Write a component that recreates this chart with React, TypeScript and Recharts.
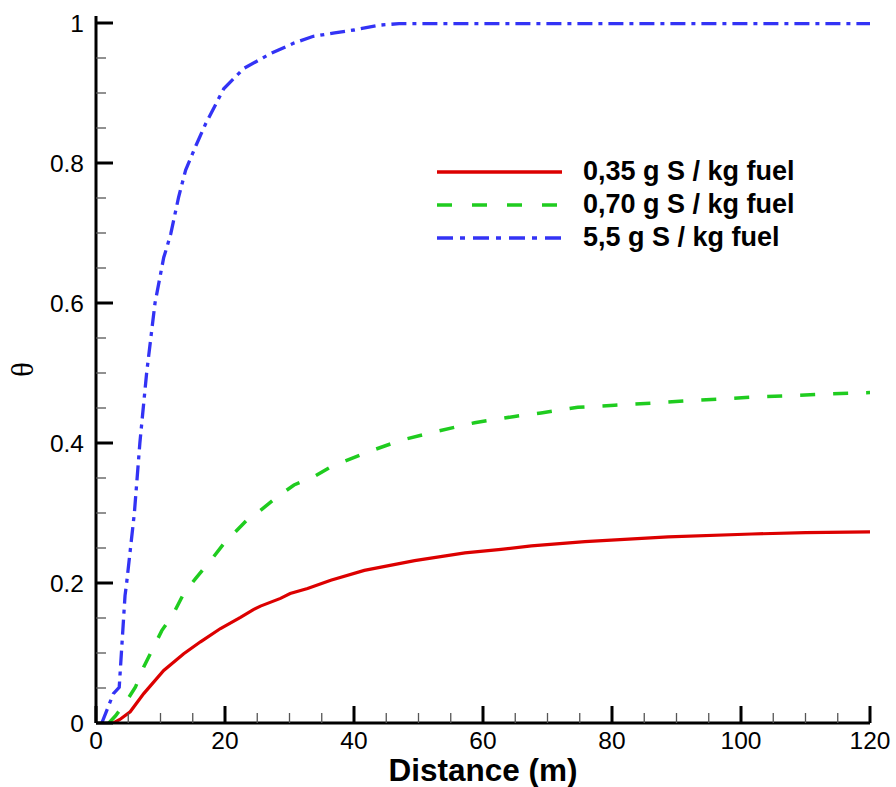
import React from 'react';
import { LineChart, Line, XAxis, YAxis, Legend, Label } from 'recharts';

// ---- data ----
const redX = [2.7, 3.7, 5.3, 7.4, 10.5, 13.6, 16.2, 19.3, 22.4, 24.4, 25.5, 28.6, 30.1, 32.8, 36.4, 41.6, 49.4, 57.2, 62.8, 67.5, 75.8, 88.7, 101.7, 110, 120];
const redY = [0, 0.005, 0.016, 0.042, 0.075, 0.099, 0.116, 0.135, 0.151, 0.162, 0.167, 0.178, 0.185, 0.192, 0.204, 0.218, 0.232, 0.243, 0.248, 0.253, 0.259, 0.266, 0.27, 0.272, 0.273];

const greenX = [2.0, 3.0, 4.5, 6.1, 7.4, 10.2, 12.0, 13.6, 15.4, 18.2, 19.8, 23.4, 25.0, 28.1, 30.7, 33.8, 36.4, 42.1, 47.3, 53.0, 58.7, 64.9, 69, 74.7, 80.4, 86.1, 91.3, 97, 102.7, 108.4, 113.5, 120];
const greenY = [0, 0.01, 0.028, 0.051, 0.08, 0.132, 0.156, 0.185, 0.206, 0.237, 0.256, 0.29, 0.3, 0.323, 0.34, 0.352, 0.366, 0.387, 0.404, 0.417, 0.429, 0.438, 0.443, 0.451, 0.454, 0.457, 0.46, 0.463, 0.466, 0.468, 0.47, 0.472];

const blueX = [0.9, 2.7, 3.6, 4.5, 4.75, 5.95, 6.8, 7.85, 9.15, 10.5, 11.0, 11.6, 12.8, 13.9, 15.5, 17.0, 19.8, 22.9, 27.0, 30.6, 33.7, 37.0, 40.0, 44.0, 47.0, 60, 80, 100, 120];
const blueY = [0, 0.042, 0.051, 0.182, 0.2, 0.3, 0.4, 0.5, 0.6, 0.665, 0.68, 0.699, 0.751, 0.79, 0.825, 0.856, 0.906, 0.935, 0.956, 0.971, 0.981, 0.986, 0.99, 0.997, 0.999, 0.999, 0.999, 0.999, 0.999];

const seriesNames = ['0,35 g S / kg fuel', '0,70 g S / kg fuel', '5,5 g S / kg fuel'];
const xTicks = [0, 5, 10, 15, 20, 25, 30, 35, 40, 45, 50, 55, 60, 65, 70, 75, 80, 85, 90, 95, 100, 105, 110, 115, 120];
const yTicks = [0, 0.05, 0.1, 0.15, 0.2, 0.25, 0.3, 0.35, 0.4, 0.45, 0.5, 0.55, 0.6, 0.65, 0.7, 0.75, 0.8, 0.85, 0.9, 0.95, 1];
const xTitle = 'Distance (m)';
const yTitle = 'θ';

const zip = (xs: number[], ys: number[]) => xs.map((x, i) => ({ x, y: ys[i] }));
const redData = zip(redX, redY);
const greenData = zip(greenX, greenY);
const blueData = zip(blueX, blueY);

const styles = [
  { color: '#dc0000', dash: undefined as string | undefined, legendDash: undefined as string | undefined, width: 3.2 },
  { color: '#1fcc1f', dash: '15 18', legendDash: '15 20', width: 3.5 },
  { color: '#3333f5', dash: '15 6 4 6', legendDash: '16 7 5 8', width: 3.3 },
];

const FONT = 'Arial, "Liberation Sans", sans-serif';
const MAJOR = 17;
const MINOR = 10;

const isMajorX = (v: number) => Math.round(v) % 20 === 0;
const isMajorY = (v: number) => Math.round(v * 100) % 20 === 0;
const fmtY = (v: number) => String(Math.round(v * 10) / 10);

const tickLine = (x1: number, y1: number, x2: number, y2: number, major: boolean) => (
  <line x1={x1} y1={y1} x2={x2} y2={y2} stroke={major ? '#000' : '#555'} strokeWidth={major ? 3 : 1.3} />
);

const BottomTick = (props: any) => {
  const { x, y, payload } = props;
  const major = isMajorX(payload.value);
  return (
    <g>
      {tickLine(x, y, x, y - (major ? MAJOR : MINOR), major)}
      {major && (
        <text x={x} y={y + 26} textAnchor="middle" fontFamily={FONT} fontSize={24.5} fill="#000">
          {String(payload.value)}
        </text>
      )}
    </g>
  );
};
const TopTick = (props: any) => {
  const { x, y, payload } = props;
  const major = isMajorX(payload.value);
  return <g>{tickLine(x, y, x, y + (major ? MAJOR : MINOR), major)}</g>;
};
const LeftTick = (props: any) => {
  const { x, y, payload } = props;
  const major = isMajorY(payload.value);
  return (
    <g>
      {tickLine(x, y, x + (major ? MAJOR : MINOR), y, major)}
      {major && (
        <text x={x - 12} y={y + 9} textAnchor="end" fontFamily={FONT} fontSize={24.5} fill="#000">
          {fmtY(payload.value)}
        </text>
      )}
    </g>
  );
};
const RightTick = (props: any) => {
  const { x, y, payload } = props;
  const major = isMajorY(payload.value);
  return <g>{tickLine(x, y, x - (major ? MAJOR : MINOR), y, major)}</g>;
};

const LegendContent = () => (
  <div style={{ fontFamily: FONT }}>
    {seriesNames.map((name, i) => (
      <div key={name} style={{ display: 'flex', alignItems: 'center', height: 33 }}>
        <svg width={125} height={10} style={{ marginRight: 21 }}>
          <line x1={0} y1={5} x2={125} y2={5} stroke={styles[i].color} strokeWidth={3.5} strokeDasharray={styles[i].legendDash} />
        </svg>
        <span style={{ fontWeight: 'bold', fontSize: 27, color: '#000', whiteSpace: 'nowrap' }}>{name}</span>
      </div>
    ))}
  </div>
);

export default function App() {
  return (
    <div style={{ position: 'absolute', left: 0, top: 0, width: 896, height: 787, background: '#fff' }}>
      <LineChart width={896} height={787} margin={{ top: 16, right: 26, bottom: 0, left: 0 }}>
        <XAxis
          dataKey="x"
          type="number"
          domain={[0, 120]}
          ticks={xTicks}
          interval={0}
          height={64}
          tickSize={0}
          tickMargin={0}
          tick={<BottomTick />}
          axisLine={{ stroke: '#000', strokeWidth: 3 }}
          allowDataOverflow
        >
          <Label
            content={(p: any) => {
              const vb = p.viewBox || { x: 96, y: 723, width: 774 };
              return (
                <text x={vb.x + vb.width / 2} y={vb.y + 58} textAnchor="middle" fontFamily={FONT} fontWeight="bold" fontSize={31.5} fill="#000">
                  {xTitle}
                </text>
              );
            }}
          />
        </XAxis>
        <XAxis
          xAxisId="top"
          orientation="top"
          dataKey="x"
          type="number"
          domain={[0, 120]}
          ticks={xTicks}
          interval={0}
          height={0}
          tickSize={0}
          tickMargin={0}
          tick={<TopTick />}
          axisLine={{ stroke: '#000', strokeWidth: 3 }}
          allowDataOverflow
        />
        <YAxis
          type="number"
          domain={[0, 1.01]}
          ticks={yTicks}
          interval={0}
          width={96}
          tickSize={0}
          tickMargin={0}
          tick={<LeftTick />}
          axisLine={{ stroke: '#000', strokeWidth: 3 }}
          allowDataOverflow
        >
          <Label
            content={(p: any) => {
              const vb = p.viewBox || { x: 0, y: 16, height: 707 };
              const cy = vb.y + vb.height / 2;
              return (
                <text x={22} y={cy} transform={`rotate(-90 22 ${cy})`} textAnchor="middle" dominantBaseline="central" fontFamily='"Liberation Serif", "Times New Roman", serif' fontSize={31} fill="#000">
                  {yTitle}
                </text>
              );
            }}
          />
        </YAxis>
        <YAxis
          yAxisId="right"
          orientation="right"
          type="number"
          domain={[0, 1.01]}
          ticks={yTicks}
          interval={0}
          width={0}
          tickSize={0}
          tickMargin={0}
          tick={<RightTick />}
          axisLine={{ stroke: '#000', strokeWidth: 3 }}
          allowDataOverflow
        />
        <Legend
          layout="horizontal"
          verticalAlign="middle"
          align="center"
          content={<LegendContent />}
          wrapperStyle={{ position: 'absolute', left: 437, top: 155, width: 'auto', height: 'auto' }}
        />
        <Line data={redData} dataKey="y" name={seriesNames[0]} type="linear" stroke={styles[0].color} strokeWidth={styles[0].width} dot={false} activeDot={false} isAnimationActive={false} />
        <Line data={greenData} dataKey="y" name={seriesNames[1]} type="linear" stroke={styles[1].color} strokeWidth={styles[1].width} strokeDasharray={styles[1].dash} dot={false} activeDot={false} isAnimationActive={false} />
        <Line data={blueData} dataKey="y" name={seriesNames[2]} type="linear" stroke={styles[2].color} strokeWidth={styles[2].width} strokeDasharray={styles[2].dash} dot={false} activeDot={false} isAnimationActive={false} />
      </LineChart>
    </div>
  );
}
